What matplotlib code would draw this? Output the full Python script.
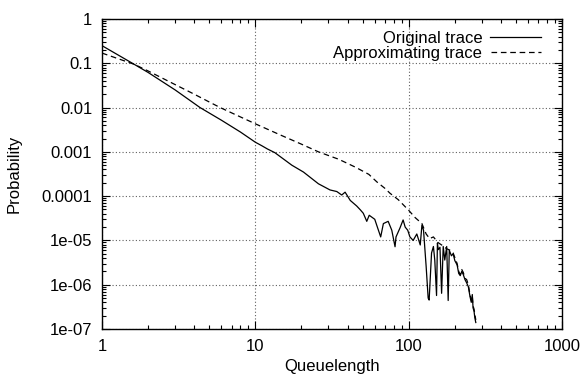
import matplotlib
matplotlib.use("Agg")
import matplotlib.pyplot as plt
from matplotlib.ticker import FixedLocator, LogLocator, NullFormatter

plt.rcParams['font.family'] = ['Liberation Sans', 'DejaVu Sans']

# Original trace (solid)
orig_x = [1, 1.62, 2, 3, 4.36, 6, 8, 10, 11, 12, 13.4, 15, 17.3, 20.6, 25.8, 30.7,
          34, 36.6, 38.5, 41.6, 45.8, 48.4, 50.6, 53.3, 55.3, 60.1, 62.5, 65.7,
          68.4, 73.5, 77.6, 81.5, 82.7, 87.7, 92, 94.9, 98.6, 101.9, 107, 113,
          119, 122, 125, 130, 134, 136, 141, 145, 148, 152, 154, 156, 160, 164,
          168, 172, 177, 181, 184, 190, 195, 200, 207, 212, 217, 222, 227, 233,
          239, 245, 251, 256, 260, 263, 267, 270, 274]
orig_y = [0.25, 0.095, 0.062, 0.025, 0.01, 0.0052, 0.0028, 0.00165, 0.00138,
          0.00116, 0.00096, 0.00072, 5.0e-4, 3.5e-4, 1.9e-4, 1.38e-4, 1.27e-4,
          1.06e-4, 1.23e-4, 8.0e-5, 6.0e-5, 4.9e-5, 4.1e-5, 2.7e-5, 3.7e-5,
          3.0e-5, 2.0e-5, 1.2e-5, 2.4e-5, 2.7e-5, 1.7e-5, 7.2e-6, 1.2e-5,
          1.9e-5, 2.9e-5, 2.0e-5, 1.7e-5, 1.2e-5, 1.0e-5, 1.4e-5, 7.9e-6,
          2.2e-5, 1.7e-5, 2.6e-6, 5.0e-7, 4.5e-7, 5.2e-6, 7.3e-6, 3.6e-6,
          5.7e-7, 8.7e-6, 6.2e-6, 7.0e-6, 6.4e-7, 7.3e-6, 3.6e-6, 7.3e-6,
          4.4e-7, 6.0e-6, 4.5e-6, 5.0e-6, 3.5e-6, 2.8e-6, 1.8e-6, 1.6e-6,
          2.0e-6, 1.7e-6, 1.3e-6, 1.1e-6, 9.0e-7, 5.5e-7, 4.0e-7, 6.0e-7,
          3.0e-7, 2.5e-7, 1.8e-7, 1.4e-7]

# Approximating trace (dashed)
appr_x = [1, 1.62, 2, 3, 4, 5, 5.9, 7, 10, 15, 20, 25.8, 35, 45, 55, 62, 70,
          75.6, 85.6, 100, 110, 122, 130, 137, 145, 155, 164, 177, 186, 195,
          207, 212, 217, 222, 227, 233, 239, 245, 251, 256, 260, 263, 267,
          270, 274]
appr_y = [0.17, 0.095, 0.067, 0.033, 0.02, 0.0134, 0.01, 0.0076, 0.0043,
          0.0023, 0.00149, 0.001, 6.8e-4, 4.5e-4, 3.1e-4, 2.1e-4, 1.5e-4,
          1.16e-4, 8.3e-5, 4.8e-5, 3.3e-5, 2.4e-5, 1.4e-5, 1.1e-5, 1.2e-5,
          9.0e-6, 7.9e-6, 6.5e-6, 6.0e-6, 5.2e-6, 3.0e-6, 2.0e-6, 1.7e-6,
          2.2e-6, 1.9e-6, 1.4e-6, 1.3e-6, 1.0e-6, 6.0e-7, 4.5e-7, 5.5e-7,
          3.3e-7, 2.8e-7, 2.2e-7, 1.6e-7]

x_ticks = [1, 10, 100, 1000]
x_labels = ["1", "10", "100", "1000"]
y_ticks = [1, 0.1, 0.01, 0.001, 0.0001, 1e-5, 1e-6, 1e-7]
y_labels = ["1", "0.1", "0.01", "0.001", "0.0001", "1e-05", "1e-06", "1e-07"]

fig = plt.figure(figsize=(5.8, 3.81), dpi=100)
ax = fig.add_axes([102 / 580, 1 - 329 / 381, 460 / 580, 310 / 381])

ax.plot(orig_x, orig_y, color='black', lw=0.9, label='Original trace')
ax.plot(appr_x, appr_y, color='black', lw=0.9, linestyle=(0, (4.5, 3)),
        label='Approximating trace')

ax.set_xscale('log')
ax.set_yscale('log')
ax.set_xlim(1, 1000)
ax.set_ylim(1e-7, 1)

ax.xaxis.set_major_locator(FixedLocator(x_ticks))
ax.set_xticklabels(x_labels)
ax.yaxis.set_major_locator(FixedLocator(y_ticks))
ax.set_yticklabels(y_labels)
ax.xaxis.set_minor_locator(LogLocator(base=10, subs=range(2, 10)))
ax.yaxis.set_minor_locator(LogLocator(base=10, subs=range(2, 10)))
ax.xaxis.set_minor_formatter(NullFormatter())
ax.yaxis.set_minor_formatter(NullFormatter())

ax.tick_params(which='both', direction='in', top=True, right=True,
               labelsize=12, colors='black')
ax.tick_params(which='major', length=6, width=0.8, pad=7)
ax.tick_params(which='minor', length=3, width=0.8)

ax.grid(True, which='major', linestyle=(0, (1, 2)), color='#606060', lw=0.8)

for s in ax.spines.values():
    s.set_linewidth(1.0)
    s.set_color('black')

ax.set_xlabel('Queuelength', fontsize=12, labelpad=4)
ax.set_ylabel('Probability', fontsize=12, labelpad=14)

leg = ax.legend(loc='upper right', bbox_to_anchor=(0.975, 0.995), frameon=False,
                markerfirst=False, fontsize=12, handlelength=3.0,
                handletextpad=0.5, labelspacing=0.0, borderaxespad=0.2)

fig.savefig('out.png', dpi=100)
